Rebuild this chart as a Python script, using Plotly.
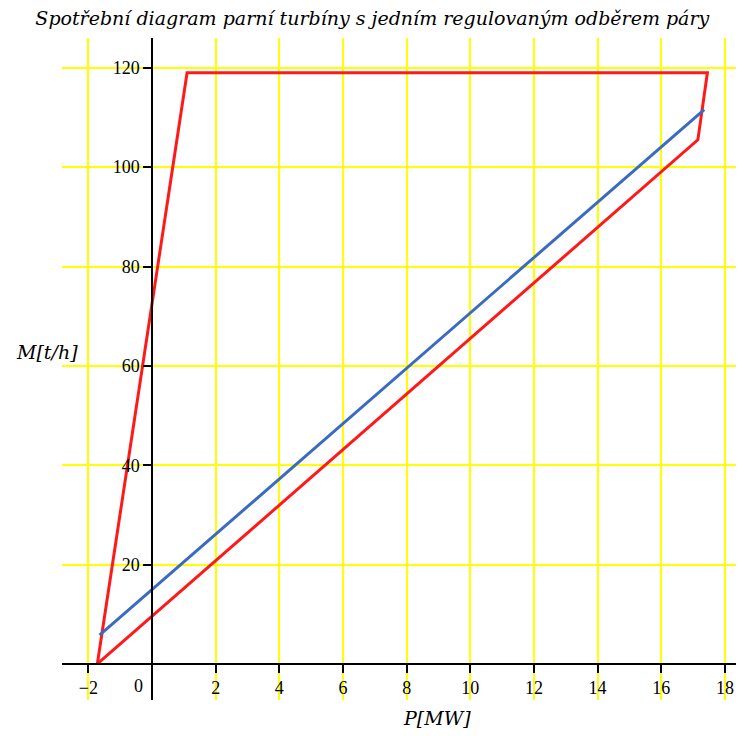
import plotly.graph_objects as go

# Consumption diagram of an extraction steam turbine
red_p = [-1.72, 1.1, 17.45, 17.15, -1.72]
red_m = [0, 119, 119, 105.5, 0]
blue_p = [-1.65, 17.35]
blue_m = [5.8, 111.6]

x_ticks = [-2, 2, 4, 6, 8, 10, 12, 14, 16, 18]
y_ticks = [20, 40, 60, 80, 100, 120]

x_range = [-2.83, 18.6]
y_range = [-7.25, 126.0]

TICK_FONT = dict(family="Liberation Serif, Times New Roman, serif", size=18, color="black")
ITAL_FONT = dict(family="DejaVu Serif, serif", size=19, color="black")

fig = go.Figure()

fig.add_trace(go.Scatter(
    x=red_p, y=red_m, mode="lines",
    line=dict(color="#ff1a1a", width=3),
    showlegend=False, hoverinfo="x+y",
))
fig.add_trace(go.Scatter(
    x=blue_p, y=blue_m, mode="lines",
    line=dict(color="#3a6bc0", width=3),
    showlegend=False, hoverinfo="x+y",
))
# empty trace so the crossing axes (x2/y2) get drawn
fig.add_trace(go.Scatter(
    x=[None], y=[None], xaxis="x2", yaxis="y2",
    showlegend=False, hoverinfo="skip",
))

# where the axes cross (x=0, y=0) as fractions of the plot area
x0_pos = (0 - x_range[0]) / (x_range[1] - x_range[0])
y0_pos = (0 - y_range[0]) / (y_range[1] - y_range[0])

# page body adds an 8px margin, so the figure is sized to fit the window
fig.update_layout(
    width=736, height=728,
    margin=dict(l=54, r=0, t=30, b=36),
    plot_bgcolor="white", paper_bgcolor="white",
    title=dict(
        text="<i>Spotřební diagram parní turbíny s jedním regulovaným odběrem páry</i>",
        font=dict(family="DejaVu Serif, serif", size=19, color="black"),
        x=0.495, xanchor="center", y=0.986, yanchor="middle",
    ),
    xaxis=dict(
        range=x_range, dtick=2, tick0=0,
        showgrid=True, gridcolor="#ffff00", gridwidth=1.5,
        zeroline=False, showticklabels=False, showline=False,
    ),
    yaxis=dict(
        range=y_range, dtick=20, tick0=0,
        showgrid=True, gridcolor="#ffff00", gridwidth=1.5,
        zeroline=False, showticklabels=False, showline=False,
    ),
    xaxis2=dict(
        range=x_range, overlaying="x", anchor="free", position=y0_pos,
        showgrid=False, zeroline=False,
        showline=True, linecolor="black", linewidth=1.5,
        tickmode="array", tickvals=x_ticks,
        ticktext=[f"{v}" if v >= 0 else f"\u2212{-v}" for v in x_ticks],
        ticks="outside", ticklen=8, tickcolor="black", tickwidth=1.5,
        tickfont=TICK_FONT,
    ),
    yaxis2=dict(
        range=y_range, overlaying="y", anchor="free", position=x0_pos,
        showgrid=False, zeroline=False,
        showline=True, linecolor="black", linewidth=1.5,
        tickmode="array", tickvals=y_ticks,
        ticks="outside", ticklen=8, tickcolor="black", tickwidth=1.5,
        tickfont=TICK_FONT,
    ),
    annotations=[
        dict(text="0", x=-0.44, y=-4.4, xref="x", yref="y", showarrow=False,
             font=TICK_FONT),
        dict(text="<i>M[t/h]</i>", x=-0.022, y=0.526, xref="paper", yref="paper",
             xanchor="center", yanchor="middle", showarrow=False, font=ITAL_FONT),
        dict(text="<i>P[MW]</i>", x=0.55, y=-0.027, xref="paper", yref="paper",
             xanchor="center", yanchor="middle", showarrow=False, font=ITAL_FONT),
    ],
)

fig.write_html("out.html")
